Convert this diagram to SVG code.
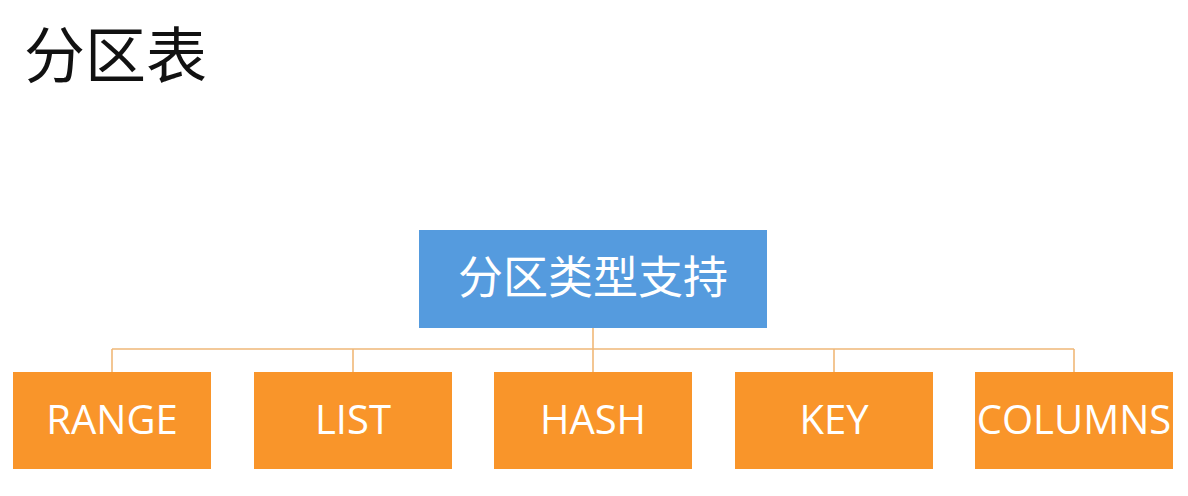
<svg xmlns="http://www.w3.org/2000/svg" width="1188" height="496" viewBox="0 0 1188 496">
<style>
.title{font-family:"Liberation Serif","Noto Sans CJK SC",serif;font-size:61px;fill:#111}
.root rect{fill:#559BDE}
.root text{font-family:"Noto Sans CJK SC",sans-serif;font-size:45px;fill:#fff;text-anchor:middle}
.leaf rect{fill:#F9952A}
.leaf text{font-family:"Open Sans","Noto Sans",sans-serif;font-size:40px;fill:#fff;text-anchor:middle}
.conn{stroke:#F0B878;stroke-width:1.6;fill:none}
</style>
<rect width="1188" height="496" fill="#fff"/>
<text class="title" x="24" y="78">分区表</text>
<g id="connectors">
<path class="conn" d="M593 328V349M112 349H1074M112 349V372M353 349V372M593 349V372M834 349V372M1074 349V372"/>
</g>
<g id="root" class="root"><rect x="419" y="230" width="348" height="98"/><text x="593" y="294">分区类型支持</text></g>
<g id="range" class="leaf"><rect x="13" y="372" width="198" height="97"/><text x="112" y="434">RANGE</text></g>
<g id="list" class="leaf"><rect x="254" y="372" width="198" height="97"/><text x="353" y="434">LIST</text></g>
<g id="hash" class="leaf"><rect x="494" y="372" width="198" height="97"/><text x="593" y="434">HASH</text></g>
<g id="key" class="leaf"><rect x="735" y="372" width="198" height="97"/><text x="834" y="434">KEY</text></g>
<g id="columns" class="leaf"><rect x="975" y="372" width="198" height="97"/><text x="1074" y="434">COLUMNS</text></g>
</svg>
